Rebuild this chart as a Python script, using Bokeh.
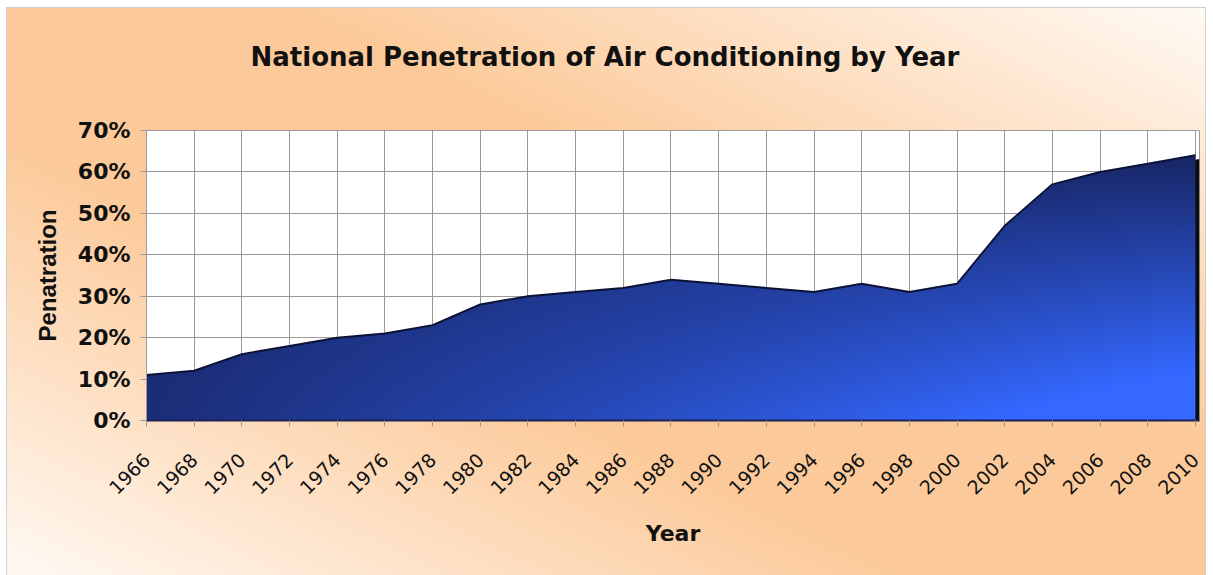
import numpy as np
from math import pi
from bokeh.plotting import figure
from bokeh.models import FixedTicker, NumeralTickFormatter, Range1d, Title
from bokeh.embed import file_html
from bokeh.resources import INLINE

# ---- data -------------------------------------------------------------
years = [1966, 1968, 1970, 1972, 1974, 1976, 1978, 1980, 1982, 1984, 1986, 1988,
         1990, 1992, 1994, 1996, 1998, 2000, 2002, 2004, 2006, 2008, 2010]
penetration = [0.11, 0.12, 0.16, 0.18, 0.20, 0.21, 0.23, 0.28, 0.30, 0.31, 0.32, 0.34,
               0.33, 0.32, 0.31, 0.33, 0.31, 0.33, 0.47, 0.57, 0.60, 0.62, 0.64]
y_ticks = [0.0, 0.1, 0.2, 0.3, 0.4, 0.5, 0.6, 0.7]
title_text = "National Penetration of Air Conditioning by Year"
x_title = "Year"
y_title = "Penatration"

# ---- figure -------------------------------------------------------------
W, H = 1200, 575
p = figure(width=W, height=H, output_backend="svg", toolbar_location=None,
           x_range=Range1d(1966, 2010.17), y_range=Range1d(0, 0.7),
           min_border_left=140, min_border_right=7, min_border_top=123,
           min_border_bottom=162)
p.styles = {
    "margin-left": "6px",
    "margin-top": "7px",
    "background": "linear-gradient(to bottom left, #fffaf5 0%, #fcca9a 38%, #fcca9a 62%, #fffaf5 100%)",
    "box-shadow": "inset 0 0 0 1px #cfcfcf",
}
p.border_fill_color = None
p.background_fill_color = "white"
p.outline_line_color = "#9a9a9a"
p.outline_line_width = 1

# grid
p.xgrid.ticker = FixedTicker(ticks=years)
p.ygrid.ticker = FixedTicker(ticks=y_ticks)
p.xgrid.grid_line_color = "#999999"
p.ygrid.grid_line_color = "#999999"
p.xgrid.grid_line_width = 1
p.ygrid.grid_line_width = 1

# ---- area with gradient fill -------------------------------------------
shadow_dx, shadow_dy = 0.16, 0.009
p.varea(x=[y + shadow_dx for y in years], y1=0,
        y2=[max(v - shadow_dy, 0) for v in penetration],
        fill_color="black", fill_alpha=0.95)

x0, x1 = years[0], years[-1]
nx, ny = 1050, 290
xs = np.linspace(x0, x1, nx)
ys = (np.arange(ny) + 0.5) / ny * 0.7
v = np.interp(xs, years, penetration)
mask = ys[:, None] <= v[None, :]
xn = (xs - x0) / (x1 - x0)
yn = ys / 0.7
t = np.clip(0.12 * (1 - yn[:, None]) + xn[None, :] ** 1.1 * (1.12 - 1.25 * yn[:, None]), 0, 1)
c0 = np.array([24, 38, 102], dtype=float)
c1 = np.array([52, 104, 255], dtype=float)
rgb = c0[None, None, :] + (c1 - c0)[None, None, :] * t[:, :, None]
img = np.zeros((ny, nx, 4), dtype=np.uint8)
img[:, :, :3] = rgb.astype(np.uint8)
img[:, :, 3] = np.where(mask, 255, 0).astype(np.uint8)
img32 = img.view(dtype=np.uint32).reshape((ny, nx))
p.image_rgba(image=[img32], x=x0, y=0, dw=x1 - x0, dh=0.7)

p.line(years, penetration, line_color="#0b1236", line_width=2)

# ---- axes -------------------------------------------------------------------
FONT = "DejaVu Sans"
xa = p.xaxis[0]
xa.ticker = FixedTicker(ticks=years)
xa.major_label_orientation = pi / 4
xa.major_label_text_font = FONT
xa.major_label_text_font_size = "19px"
xa.major_label_text_color = "#111111"
xa.major_label_standoff = 30
xa.axis_line_color = "#1a2258"
xa.axis_line_width = 2
xa.major_tick_line_color = "#9a9a9a"
xa.major_tick_out = 6
xa.major_tick_in = 0
xa.minor_tick_line_color = None
xa.axis_label = x_title
xa.axis_label_text_font = FONT
xa.axis_label_text_font_style = "bold"
xa.axis_label_text_font_size = "22px"
xa.axis_label_text_color = "#111111"
xa.axis_label_standoff = 17

ya = p.yaxis[0]
ya.ticker = FixedTicker(ticks=y_ticks)
ya.formatter = NumeralTickFormatter(format="0%")
ya.major_label_text_font = FONT
ya.major_label_text_font_style = "bold"
ya.major_label_text_font_size = "22px"
ya.major_label_text_color = "#111111"
ya.major_label_standoff = 10
ya.axis_line_color = "#9a9a9a"
ya.major_tick_line_color = "#9a9a9a"
ya.major_tick_out = 6
ya.major_tick_in = 0
ya.minor_tick_line_color = None
ya.axis_label = y_title
ya.axis_label_text_font = "Liberation Sans"
ya.axis_label_text_font_style = "bold"
ya.axis_label_text_font_size = "24px"
ya.axis_label_text_color = "#111111"
ya.axis_label_standoff = 14

# ---- title --------------------------------------------------------------------
p.title.text = ""
p.add_layout(Title(text=" ", text_font_size="51px", standoff=0), "above")
p.add_layout(Title(text=title_text, align="left", offset=104, text_font=FONT,
                   text_font_style="bold", text_font_size="26px",
                   text_color="#111111", standoff=0), "above")

open("out.html", "w").write(file_html(p, INLINE))
